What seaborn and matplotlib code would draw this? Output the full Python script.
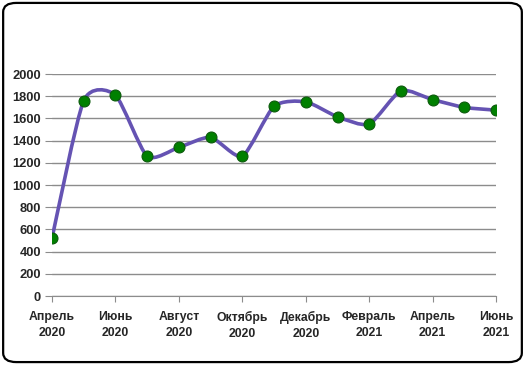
import numpy as np
import pandas as pd
import matplotlib
matplotlib.use("Agg")
import matplotlib.pyplot as plt
import seaborn as sns
from matplotlib.path import Path
from matplotlib.patches import PathPatch, FancyBboxPatch

months = ["Апрель\n2020", "Май\n2020", "Июнь\n2020", "Июль\n2020", "Август\n2020",
          "Сентябрь\n2020", "Октябрь\n2020", "Ноябрь\n2020", "Декабрь\n2020",
          "Январь\n2021", "Февраль\n2021", "Март\n2021", "Апрель\n2021",
          "Май\n2021", "Июнь\n2021"]
values = [520, 1760, 1810, 1260, 1340, 1430, 1260, 1710, 1750, 1615, 1550, 1850, 1770, 1700, 1675]
y_ticks = [0, 200, 400, 600, 800, 1000, 1200, 1400, 1600, 1800, 2000]

df = pd.DataFrame({"pos": np.arange(len(values)), "value": values})

sns.set_style("white")
plt.rcParams['font.family'] = ['Liberation Sans', 'DejaVu Sans']

fig = plt.figure(figsize=(5.25, 3.65), dpi=100)
ax = fig.add_axes([0.099, 0.189, 0.846, 0.608])

# smoothed line like excel (bezier through the points)
k = 0.11
x = df["pos"].to_numpy(dtype=float)
y = df["value"].to_numpy(dtype=float)
px = np.concatenate([[x[0]], x, [x[-1]]])
py = np.concatenate([[y[0]], y, [y[-1]]])
verts = [(x[0], y[0])]
codes = [Path.MOVETO]
for i in range(1, len(px) - 2):
    c1 = (px[i] + (px[i + 1] - px[i - 1]) * k, py[i] + (py[i + 1] - py[i - 1]) * k)
    c2 = (px[i + 1] - (px[i + 2] - px[i]) * k, py[i + 1] - (py[i + 2] - py[i]) * k)
    verts += [c1, c2, (px[i + 1], py[i + 1])]
    codes += [Path.CURVE4] * 3
ax.add_patch(PathPatch(Path(verts, codes), facecolor="none", edgecolor="#6553b3",
                       lw=2.6, zorder=3, capstyle="round"))

sns.scatterplot(data=df, x="pos", y="value", ax=ax, s=62, color="#008000",
                edgecolor="#0b5a0b", linewidth=0.8, zorder=4, legend=False)

ax.set_xlim(0, len(values) - 1)
ax.set_ylim(0, 2000)
ax.set_yticks(y_ticks)
ax.set_yticklabels([str(t) for t in y_ticks], fontsize=9.3, fontweight="bold")
ax.set_xticks(df["pos"][::2])
ax.set_xticklabels(months[::2], fontsize=8.8, fontweight="bold", linespacing=1.45)
ax.set_xlabel("")
ax.set_ylabel("")
ax.grid(axis="y", color="#8c8c8c", lw=1.0)
ax.grid(axis="x", visible=False)
for s in ["top", "right", "left"]:
    ax.spines[s].set_visible(False)
ax.spines["bottom"].set_color("#8c8c8c")
ax.tick_params(axis="x", direction="out", length=4, color="#8c8c8c", pad=7, bottom=True)
ax.tick_params(axis="y", direction="out", length=5, color="#8c8c8c", pad=3, left=True)

border = FancyBboxPatch((0.006, 0.008), 0.988, 0.984, boxstyle="round,pad=0,rounding_size=0.025",
                        transform=fig.transFigure, facecolor="none", edgecolor="black", lw=1.6)
fig.patches.append(border)

fig.savefig("out.png", dpi=100)
